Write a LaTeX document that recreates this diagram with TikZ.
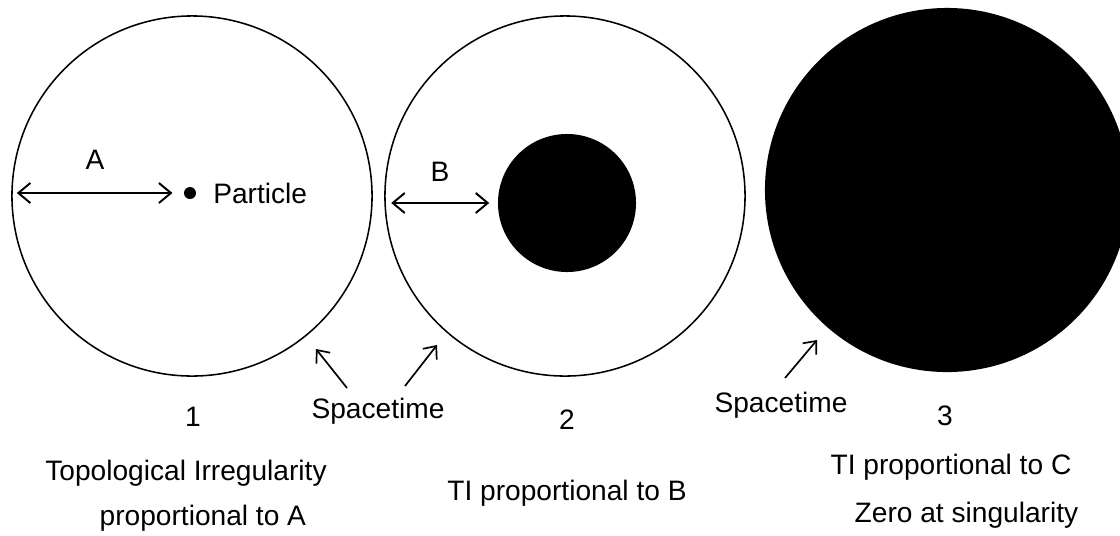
\documentclass[tikz,border=0pt]{standalone}
\usepackage{fontspec}
\setmainfont{Liberation Sans}
\usetikzlibrary{arrows.meta,positioning,calc}

\begin{document}
\begin{tikzpicture}[
  x=0.025cm,y=-0.025cm,
  ring/.style ={circle,draw,line width=1.1pt,inner sep=0pt,minimum size=9cm},
  core/.style ={circle,fill=black,inner sep=0pt},
  txt/.style  ={inner sep=0pt,font=\fontsize{20}{26}\selectfont},
  dim/.style  ={{Straight Barb[length=3mm,width=5mm,line width=1.4pt]}-{Straight Barb[length=3mm,width=5mm,line width=1.4pt]},line width=1.5pt},
  pointer/.style={-{Straight Barb[length=2.6mm,width=4.4mm,line width=1.2pt]},line width=1.2pt},
]
\useasboundingbox (0,0) rectangle (1120,535);
\clip (0,0) rectangle (1120,535);
% the three stages
\node[ring] (one) at (192,196) {};
\node[ring] (two) at (565,196) {};
\node[core,minimum size=3.45cm] (hole) at (567,203) {};
\node[core,minimum size=9.1cm] (three) at (947,190) {};
% particle and distances
\node[core,minimum size=0.3cm] (dot) at (190,193) {};
\node[txt,anchor=west] (part) at (213,193) {Particle};
\coordinate (aL) at (one.west |- dot);
\coordinate (bL) at (two.west |- hole);
\draw[dim,shorten <=4pt,shorten >=8pt] (aL) -- (dot);
\draw[dim,shorten <=5pt,shorten >=6pt] (bL) -- (hole.west);
\node[txt] (la) at (95,160) {A};
\node[txt] (lb) at (440,172) {B};
% spacetime pointers
\node[txt] (st1) at (378,411) {Spacetime};
\node[txt] (st2) at (781,405) {Spacetime};
\coordinate (p1) at (316,349);
\coordinate (p2) at (437,345);
\coordinate (p3) at (817,340);
\draw[pointer] (347,388) -- (p1);
\draw[pointer] (405,386) -- (p2);
\draw[pointer] (785,378) -- (p3);
% numbers and captions
\node[txt] (n1) at (193,417) {1};
\node[txt] (n2) at (567,420) {2};
\node[txt] (n3) at (945,416) {3};
\node[txt,align=center] (cap1) at (186,496) {Topological Irregularity\\[6pt]\hspace*{1.2em}proportional to A};
\node[txt] (cap2) at (567,493) {TI proportional to B};
\node[txt,align=center] (cap3) at (951,491) {TI proportional to C\\[8pt]\hspace*{1.1em}Zero at singularity};
\end{tikzpicture}
\end{document}
